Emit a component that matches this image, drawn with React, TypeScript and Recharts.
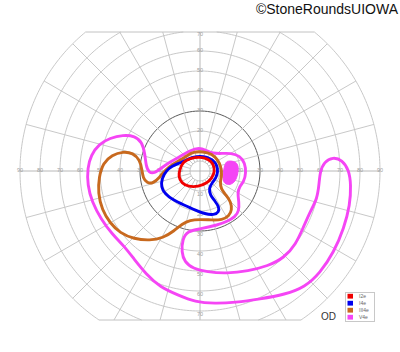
import React from 'react';
import { ScatterChart, Scatter, XAxis, YAxis, Legend } from 'recharts';

// ---- chart frame (degrees of visual field) ----
const TOP_CLIP = 69.5;
const BOTTOM_CLIP = -74.5;
const ringRadii = [10, 20, 30, 40, 50, 60, 70, 80, 90];
const darkRing = 30;
const innerRing = 5;
const spokeStep = 15;
const hLabels = [10, 20, 30, 40, 50, 60, 70, 80, 90];
const vLabels = [10, 20, 30, 40, 50, 60, 70];

// ---- isopters, [x, y] in degrees (x: temporal +, y: superior +) ----
const i2e = [
  [-10, 1.35], [-8.35, 4.65], [-5, 6.35], [0, 7.15], [4.15, 6], [6.65, 3.85], [7.5, -0.35],
  [5.85, -3.65], [3.35, -6.15], [-0.85, -7.85], [-5.85, -7.85], [-9.15, -6.15], [-10.85, -2.85],
];
const i4e = [
  [-3.5, 7], [0, 7.5], [3.5, 7], [6.5, 5.5], [8.5, 3], [9, -0.5], [8, -3.5], [6, -6], [4.5, -8.5],
  [5, -12], [7.5, -15], [9.5, -18], [9.5, -20.5], [7, -22], [2.5, -21.5], [-2.5, -19.5], [-8, -17],
  [-13.5, -14.5], [-17.5, -11.5], [-19.5, -8], [-19, -3.5], [-17, 0], [-14, 2.5], [-10, 4], [-7, 5.5],
];
const iii4e = [
  [-3.5, 9.5], [1.5, 9.75], [6, 8.5], [9, 5.5], [10.5, 2], [11, -2], [10, -5.5], [10.5, -9], [13, -12],
  [15.5, -15.5], [16, -19.5], [14.5, -22.5], [11, -24.5], [6, -24.5], [0, -24.25], [-5, -24.5],
  [-9, -26.5], [-13, -30], [-18.5, -33.5], [-25, -34.75], [-33, -34], [-40, -31], [-45, -26],
  [-49, -19.5], [-51, -11], [-50.5, -3], [-48.5, 4], [-44, 8], [-38.5, 9.75], [-33.5, 9], [-30, 5.5],
  [-29, 0.5], [-28.5, -3.5], [-26.5, -6], [-23.5, -6.25], [-20, -3], [-17.5, 0.5], [-13.5, 3.5],
  [-9, 6], [-6, 8],
];
const v4e = [
  [-0.5, 11.75], [3.25, 10.25], [6.5, 8.75], [11, 8.75], [15.5, 9], [20, 7.5], [22.5, 4], [23, -1],
  [22, -5.25], [19.75, -7.75], [18.75, -11], [19.5, -15.5], [19.5, -20], [17.5, -23], [14, -25],
  [9, -27], [0, -29], [-6.25, -30], [-8.75, -34], [-9.25, -40.5], [-7.75, -45.5], [-3.5, -48.75],
  [3.5, -50.5], [13.5, -51.25], [24, -50], [34, -47.5], [42, -43.5], [48, -36.5], [51.5, -28.5],
  [55.5, -19.5], [58.5, -14], [59.5, -7], [60, -0.5], [62, 4.5], [66.5, 7], [71, 5.5], [74.5, 0.5],
  [75.5, -7], [75, -17], [72, -28.5], [67, -40.5], [60, -51], [52.5, -58], [42.5, -61.75], [30, -64],
  [17.5, -65.75], [7.5, -66.25], [-2.5, -65.5], [-11, -62], [-20, -58], [-27, -51.5], [-33, -44],
  [-38, -37.5], [-44, -31.5], [-49.5, -24], [-54, -15.5], [-56.25, -7], [-56.25, 1.5], [-54.5, 8],
  [-50.5, 13.5], [-45, 16.5], [-38.5, 18], [-32.5, 17.5], [-29, 14.5], [-27.5, 8.5], [-27, 2.5],
  [-25.5, -1], [-22.5, -1], [-19, 1.75], [-15, 4.5], [-10, 7.25], [-5, 10.25],
];
const v4eScotoma = [
  [14, 5], [17, 5], [19, 3.5], [19.25, 0.5], [18.5, -3.5], [16.5, -6.5], [13.5, -7], [11.5, -5.5],
  [11.5, -2], [12, 2], [13, 4.5],
];

const isopters = [
  { name: 'V4e', data: v4e, color: '#f545f5' },
  { name: 'III4e', data: iii4e, color: '#c8691e' },
  { name: 'I4e', data: i4e, color: '#0000ee' },
  { name: 'I2e', data: i2e, color: '#f00000' },
];
const legendOrder = ['I2e', 'I4e', 'III4e', 'V4e'];
const colorByName: Record<string, string> = {};
isopters.forEach((s) => (colorByName[s.name] = s.color));

type P = { x: number; y: number };
const toPts = (arr: number[][]): P[] => arr.map(([x, y]) => ({ x, y }));

function arc(r: number, t0: number, t1: number): P[] {
  const n = Math.max(24, Math.ceil((Math.abs(t1 - t0) * r) / 1.5));
  const out: P[] = [];
  for (let i = 0; i <= n; i++) {
    const t = t0 + ((t1 - t0) * i) / n;
    out.push({ x: r * Math.cos(t), y: r * Math.sin(t) });
  }
  return out;
}

function ringSegments(r: number): P[][] {
  if (r <= TOP_CLIP) return [arc(r, 0, Math.PI * 2)];
  const aT = Math.asin(TOP_CLIP / r);
  if (r <= -BOTTOM_CLIP) return [arc(r, Math.PI - aT, Math.PI * 2 + aT)];
  const aB = Math.asin(-BOTTOM_CLIP / r);
  return [arc(r, -aB, aT), arc(r, Math.PI - aT, Math.PI + aB)];
}

function spoke(deg: number): P[] {
  const t = (deg * Math.PI) / 180;
  const s = Math.sin(t);
  let r1 = 90;
  if (s > 1e-9) r1 = Math.min(r1, TOP_CLIP / s);
  if (s < -1e-9) r1 = Math.min(r1, BOTTOM_CLIP / s);
  const r0 = deg % 90 === 0 ? 0 : innerRing;
  return [
    { x: r0 * Math.cos(t), y: r0 * Math.sin(t) },
    { x: r1 * Math.cos(t), y: r1 * Math.sin(t) },
  ];
}

const spokeAngles: number[] = [];
for (let a = 0; a < 360; a += spokeStep) spokeAngles.push(a);

const topHalf = Math.sqrt(90 * 90 - TOP_CLIP * TOP_CLIP);
const botHalf = Math.sqrt(90 * 90 - BOTTOM_CLIP * BOTTOM_CLIP);

const labelPts = [
  ...hLabels.map((v) => ({ x: v, y: 0.6, label: String(v) })),
  ...hLabels.map((v) => ({ x: -v, y: 0.6, label: String(v) })),
  ...vLabels.map((v) => ({ x: 0, y: Math.min(v + 0.6, 68.5), label: String(v) })),
  ...vLabels.map((v) => ({ x: 0, y: -v - 1.4, label: String(v) })),
];

const noShape = () => <g />;
const labelShape = (p: any) => (
  <text
    x={p.cx}
    y={p.cy}
    textAnchor="middle"
    dominantBaseline="central"
    fontSize={5.5}
    fill="#a0a0a0"
    fontFamily="Liberation Sans, Arial, sans-serif"
  >
    {p.payload.label}
  </text>
);

const GRID = '#c2c2c2';

const renderLegend = (props: any) => {
  const payload = (props.payload || [])
    .filter((e: any) => legendOrder.indexOf(e.value) >= 0)
    .sort((a: any, b: any) => legendOrder.indexOf(a.value) - legendOrder.indexOf(b.value));
  return (
    <svg width={30} height={30} style={{ display: 'block' }}>
      <rect x={0.5} y={0.5} width={29} height={29} fill="#fff" stroke="#c8c8c8" />
      {payload.map((e: any, i: number) => (
        <g key={e.value}>
          <rect x={2.5} y={1.8 + i * 7} width={5.5} height={4.8} fill={colorByName[e.value] || e.color} />
          <text
            x={14}
            y={4.3 + i * 7}
            fontSize={5}
            fill="#666"
            dominantBaseline="central"
            fontFamily="Liberation Sans, Arial, sans-serif"
          >
            {e.value}
          </text>
        </g>
      ))}
    </svg>
  );
};

export default function App() {
  return (
    <div style={{ position: 'absolute', left: 0, top: 0, width: 400, height: 352, background: '#fff' }}>
      <ScatterChart width={400} height={352} margin={{ top: 11, right: 0, bottom: 21, left: 0 }}>
        <XAxis type="number" dataKey="x" domain={[-100, 100]} hide />
        <YAxis type="number" dataKey="y" domain={[-80, 80]} hide />
        {ringRadii.map((r) =>
          ringSegments(r).map((seg, i) => (
            <Scatter
              key={`ring-${r}-${i}`}
              data={seg}
              shape={noShape}
              legendType="none"
              isAnimationActive={false}
              line={{ stroke: r === darkRing ? '#5a5a5a' : GRID, strokeWidth: r === darkRing ? 1 : 0.9 }}
            />
          )),
        )}
        <Scatter
          key="ring-inner"
          data={arc(innerRing, 0, Math.PI * 2)}
          shape={noShape}
          legendType="none"
          isAnimationActive={false}
          line={{ stroke: GRID, strokeWidth: 0.9 }}
        />
        {spokeAngles.map((a) => (
          <Scatter
            key={`spoke-${a}`}
            data={spoke(a)}
            shape={noShape}
            legendType="none"
            isAnimationActive={false}
            line={{ stroke: a % 90 === 0 ? '#b0b0b0' : GRID, strokeWidth: 0.9 }}
          />
        ))}
        <Scatter
          key="clip-top"
          data={[{ x: -topHalf, y: TOP_CLIP }, { x: topHalf, y: TOP_CLIP }]}
          shape={noShape}
          legendType="none"
          isAnimationActive={false}
          line={{ stroke: GRID, strokeWidth: 1 }}
        />
        <Scatter
          key="clip-bottom"
          data={[{ x: -botHalf, y: BOTTOM_CLIP }, { x: botHalf, y: BOTTOM_CLIP }]}
          shape={noShape}
          legendType="none"
          isAnimationActive={false}
          line={{ stroke: GRID, strokeWidth: 1 }}
        />
        <Scatter
          key="labels"
          data={labelPts}
          shape={labelShape}
          legendType="none"
          isAnimationActive={false}
        />
        <Scatter
          key="scotoma"
          data={toPts(v4eScotoma)}
          shape={noShape}
          legendType="none"
          isAnimationActive={false}
          fill="#f545f5"
          lineJointType="basisClosed"
          line={{ fill: '#f545f5', stroke: '#f545f5', strokeWidth: 1 }}
        />
        {isopters.map((s) => (
          <Scatter
            key={s.name}
            name={s.name}
            data={toPts(s.data)}
            fill={s.color}
            shape={noShape}
            legendType="square"
            isAnimationActive={false}
            lineJointType="basisClosed"
            line={{ stroke: s.color, strokeWidth: 2.9, strokeLinejoin: 'round' }}
          />
        ))}
        <Legend
          layout="vertical"
          align="center"
          verticalAlign="middle"
          content={renderLegend}
          wrapperStyle={{ position: 'absolute', left: 344.5, top: 291.5, width: 30, height: 30 }}
        />
      </ScatterChart>
      <div
        style={{
          position: 'absolute',
          right: 2,
          top: 1,
          fontFamily: 'Liberation Sans, Arial, sans-serif',
          fontSize: 14,
          lineHeight: '16px',
          color: '#111',
          whiteSpace: 'nowrap',
        }}
      >
        ©StoneRoundsUIOWA
      </div>
      <div
        style={{
          position: 'absolute',
          left: 321,
          top: 311,
          fontFamily: 'Liberation Sans, Arial, sans-serif',
          fontSize: 10,
          lineHeight: '12px',
          color: '#333',
        }}
      >
        OD
      </div>
    </div>
  );
}
